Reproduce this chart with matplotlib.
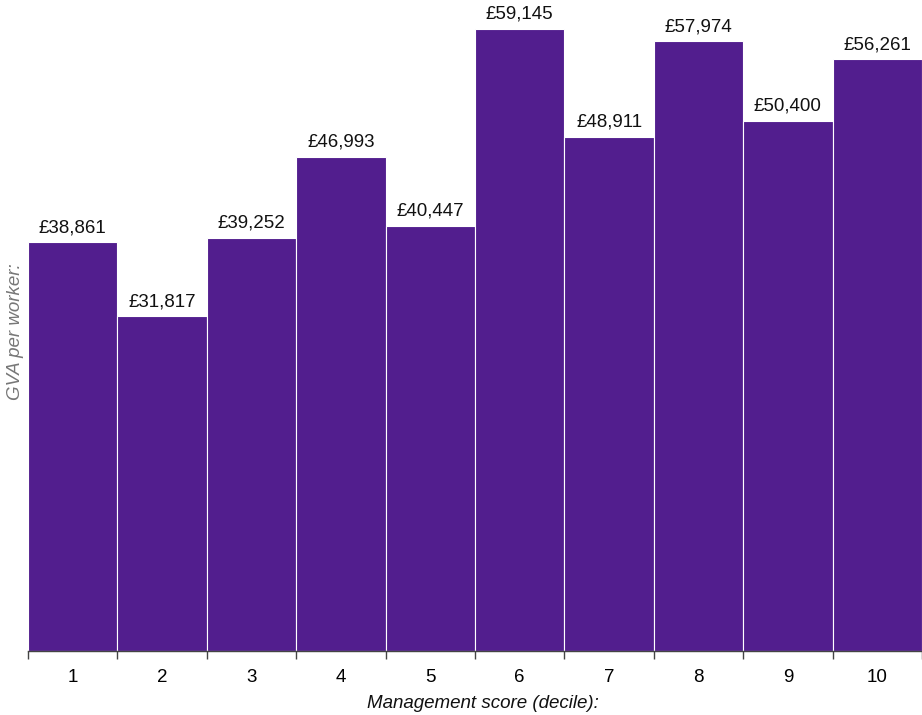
import matplotlib
matplotlib.use("Agg")
import matplotlib.pyplot as plt
import numpy as np

plt.rcParams['font.family'] = ['Liberation Sans', 'DejaVu Sans']

deciles = ['1', '2', '3', '4', '5', '6', '7', '8', '9', '10']
gva = [38861, 31817, 39252, 46993, 40447, 59145, 48911, 57974, 50400, 56261]

fig = plt.figure(figsize=(9.22, 7.15), dpi=100)
ax = fig.add_axes([28 / 922, 64 / 715, 1 - 28 / 922, 651 / 715])

x = np.arange(len(gva))
ax.bar(x, gva, width=1.0, color='#521e8e', edgecolor='white', linewidth=0.8, align='center')

for xi, v in zip(x, gva):
    ax.text(xi, v + 600, '£{:,}'.format(v), ha='center', va='bottom', fontsize=13.5, color='#111111')

ax.set_xlim(-0.5, len(gva) - 0.5)
ax.set_ylim(0, 61906)

# ticks at bar edges, labels centred
ax.set_xticks(np.arange(-0.5, len(gva)), minor=False)
ax.set_xticklabels([''] * (len(gva) + 1))
ax.set_xticks(x, minor=True)
ax.set_xticklabels(deciles, minor=True, fontsize=13.5)
ax.tick_params(axis='x', which='major', length=6, color='#444444', width=1)
ax.tick_params(axis='x', which='minor', length=0, pad=13)

ax.set_yticks([])
for s in ['top', 'right', 'left']:
    ax.spines[s].set_visible(False)
ax.spines['bottom'].set_color('#444444')
ax.spines['bottom'].set_linewidth(1)

fig.text(0.5 + 22 / 922, 11 / 715, 'Management score (decile):', ha='center', va='center',
         fontsize=13.5, style='italic', color='#111111')
fig.text(16 / 922, 1 - 332 / 715, 'GVA per worker:', ha='center', va='center', rotation=90,
         fontsize=13.5, style='italic', color='#777777')

fig.savefig('out.png', dpi=100)
